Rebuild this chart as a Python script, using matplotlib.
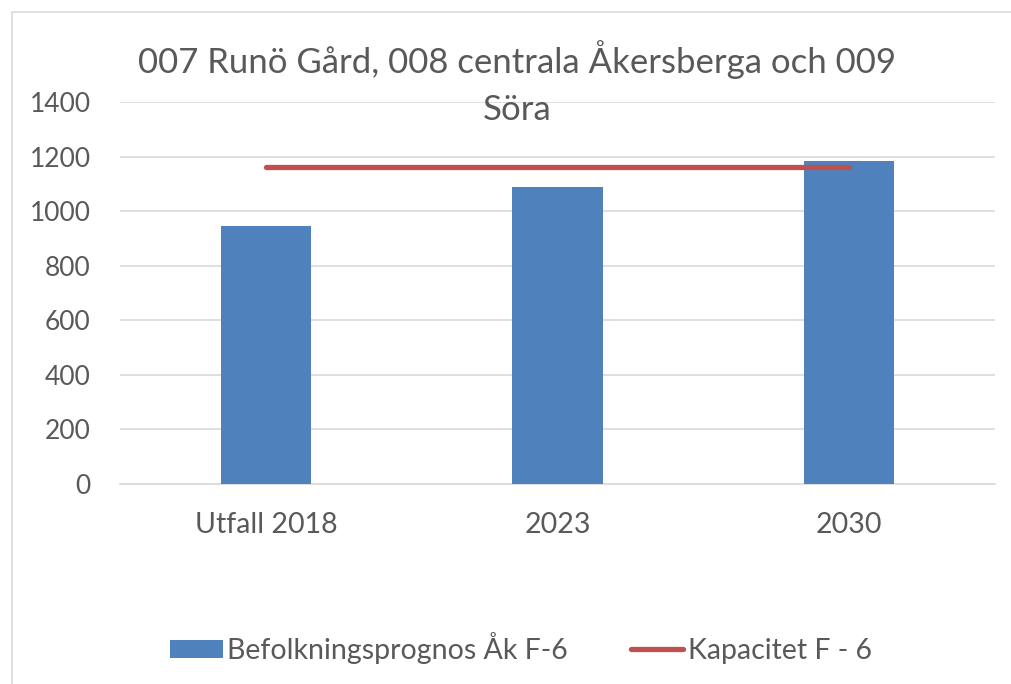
import matplotlib
matplotlib.use("Agg")
import matplotlib.pyplot as plt
from matplotlib.patches import Rectangle

categories = ["Utfall 2018", "2023", "2030"]
prognos = [947, 1087, 1182]
kapacitet = [1160, 1160, 1160]
yticks = [0, 200, 400, 600, 800, 1000, 1200, 1400]
title = "007 Runö Gård, 008 centrala Åkersberga och 009\nSöra"

plt.rcParams['font.family'] = ['Lato', 'DejaVu Sans']
txt = '#595959'

fig = plt.figure(figsize=(10.12, 6.84), dpi=100)
fig.patches.append(Rectangle((12/1012, -0.01), 1.0, 1 - 12/684 + 0.01, transform=fig.transFigure,
                             fill=False, edgecolor='#D9D9D9', linewidth=1.2))
ax = fig.add_axes([120/1012, 1 - 484/684, 875/1012, 382/684])
x = list(range(len(categories)))
bars = ax.bar(x, prognos, width=0.31, color='#4F81BD', zorder=3, label='Befolkningsprognos Åk F-6')
line, = ax.plot(x, kapacitet, color='#C0504D', linewidth=3.8, solid_capstyle='round', zorder=4,
                label='Kapacitet F - 6')
ax.set_xlim(-0.5, 2.5)
ax.set_ylim(0, 1400)
ax.set_yticks(yticks)
ax.set_xticks(x)
ax.set_xticklabels(categories)
ax.grid(axis='y', color='#D9D9D9', linewidth=1.2, zorder=0)
for s in ['top', 'right', 'left']:
    ax.spines[s].set_visible(False)
ax.spines['bottom'].set_color('#D9D9D9')
ax.spines['bottom'].set_linewidth(1.2)
ax.tick_params(axis='y', length=0, labelsize=19, colors=txt, pad=21)
ax.tick_params(axis='x', length=0, labelsize=20.5, colors=txt, pad=20)
fig.text(517/1012, 1 - 83/684, title, ha='center', va='center', fontsize=25,
         color=txt, linespacing=1.55)
leg = fig.legend([bars, line], ['Befolkningsprognos Åk F-6', 'Kapacitet F - 6'], loc='center',
                 bbox_to_anchor=(521/1012, 1 - 648/684), ncol=2,
                 frameon=False, fontsize=20.5, handlelength=1.85, handleheight=0.6,
                 handletextpad=0.15, columnspacing=2.2, labelcolor=txt)
fig.savefig('out.png', dpi=100)
